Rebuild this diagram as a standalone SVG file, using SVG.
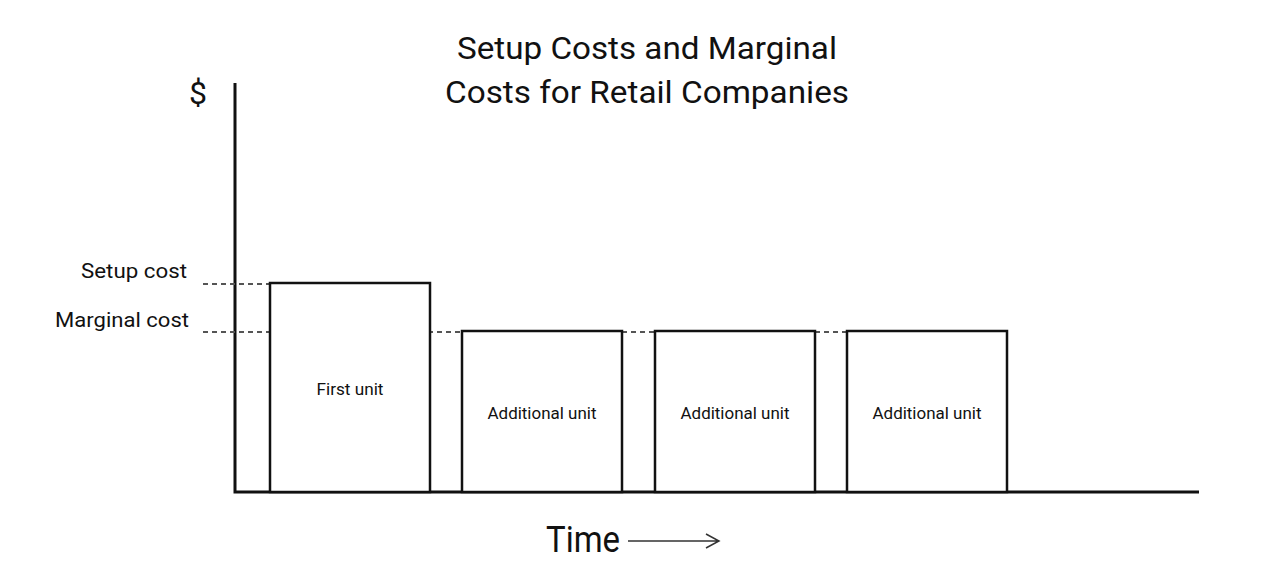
<svg xmlns="http://www.w3.org/2000/svg" width="1280" height="579" viewBox="0 0 1280 579">
<style>
text{font-family:Roboto,"Liberation Sans",sans-serif;fill:#111}
.box{fill:#fff;stroke:#111;stroke-width:2.5}
.dash{stroke:#555;stroke-width:2;stroke-dasharray:5,4;fill:none}
.lbl{font-size:21px;text-anchor:end}
.in{font-size:17px;text-anchor:middle}
</style>
<rect width="1280" height="579" fill="#fff"/>
<g id="title"><text x="647" y="59" font-size="32" text-anchor="middle" textLength="380" lengthAdjust="spacingAndGlyphs">Setup Costs and Marginal</text>
<text x="647" y="103" font-size="32" text-anchor="middle" textLength="404" lengthAdjust="spacingAndGlyphs">Costs for Retail Companies</text></g>
<g id="axes" stroke="#111" stroke-width="3" fill="none"><path d="M235 83V492H1199"/></g>
<text x="198" y="104" font-size="32" text-anchor="middle">$</text>
<g id="connectors">
<path class="dash" d="M203 284H270"/>
<path class="dash" d="M203 332H462M622 332H655M815 332H847"/>
<path d="M628 541H718M706 534L719 541L706 548" stroke="#333" stroke-width="1.5" fill="none"/>
</g>
<text class="lbl" x="187" y="278" textLength="106" lengthAdjust="spacingAndGlyphs">Setup cost</text>
<text class="lbl" x="189" y="327" textLength="134" lengthAdjust="spacingAndGlyphs">Marginal cost</text>
<g id="n1"><rect class="box" x="270" y="283" width="160" height="209"/><text class="in" x="350" y="395" textLength="67" lengthAdjust="spacingAndGlyphs">First unit</text></g>
<g id="n2"><rect class="box" x="462" y="331" width="160" height="161"/><text class="in" x="542" y="419" textLength="109" lengthAdjust="spacingAndGlyphs">Additional unit</text></g>
<g id="n3"><rect class="box" x="655" y="331" width="160" height="161"/><text class="in" x="735" y="419" textLength="109" lengthAdjust="spacingAndGlyphs">Additional unit</text></g>
<g id="n4"><rect class="box" x="847" y="331" width="160" height="161"/><text class="in" x="927" y="419" textLength="109" lengthAdjust="spacingAndGlyphs">Additional unit</text></g>
<text x="583" y="552" font-size="36" text-anchor="middle" textLength="74" lengthAdjust="spacingAndGlyphs">Time</text>
</svg>
